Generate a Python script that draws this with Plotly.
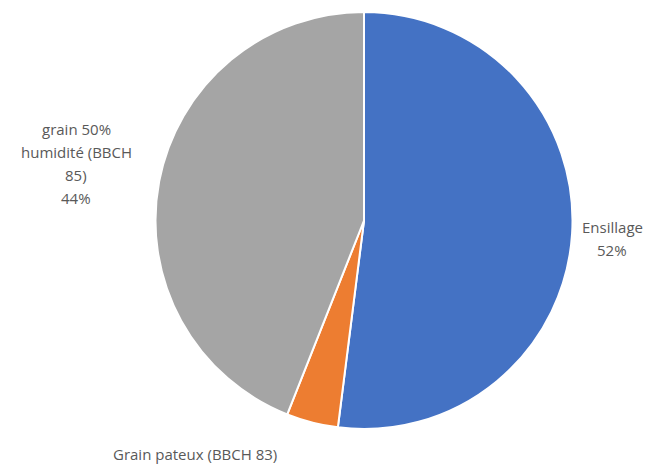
import plotly.graph_objects as go

labels = ["Ensillage", "Grain pateux (BBCH 83)", "grain 50% humidité (BBCH 85)"]
values = [52, 4, 44]
colors = ["#4472C4", "#ED7D31", "#A5A5A5"]

# label text lines as displayed (wrapped) and their positions in pixels
label_lines = [
    ["Ensillage", "52%"],
    ["Grain pateux (BBCH 83)"],
    ["grain 50%", "humidité (BBCH", "85)", "44%"],
]
label_pos = [(612, 227), (195, 454), (76, 129)]
line_gap = 23

W, H = 661, 464
fig = go.Figure(go.Pie(
    labels=labels, values=values, sort=False, direction="clockwise", rotation=0,
    marker=dict(colors=colors, line=dict(color="white", width=2)),
    textinfo="none", hoverinfo="label+percent",
    domain=dict(x=[155 / W, 573 / W], y=[1 - 429 / H, 1 - 12 / H]),
))

anns = []
for lines, (cx, cy) in zip(label_lines, label_pos):
    for i, t in enumerate(lines):
        anns.append(dict(x=cx / W, y=1 - (cy + i * line_gap) / H, xref="paper", yref="paper",
                         text=t, showarrow=False, xanchor="center", yanchor="middle",
                         font=dict(family="Open Sans", size=15, color="#595959")))

fig.update_layout(width=W, height=H, margin=dict(l=0, r=0, t=0, b=0),
                  showlegend=False, paper_bgcolor="white", annotations=anns)
fig.write_html("out.html")
